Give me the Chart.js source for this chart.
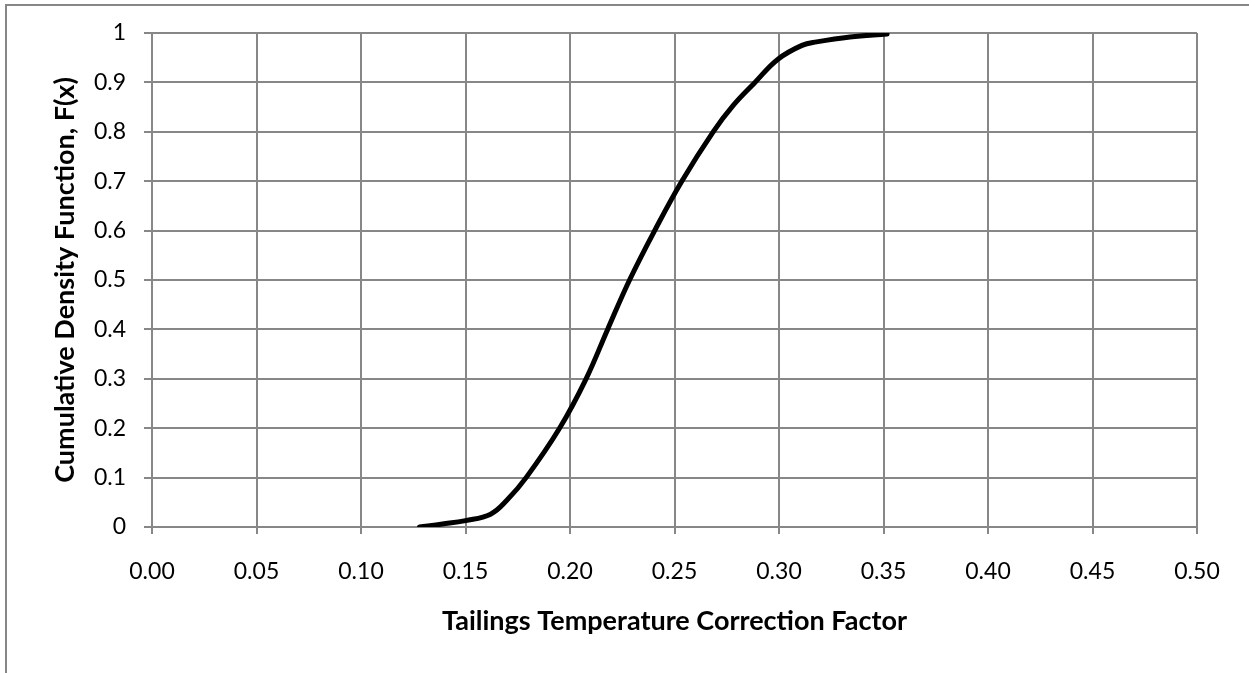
<!DOCTYPE html>
<html>
<head>
<meta charset="utf-8">
<script src="https://cdn.jsdelivr.net/npm/chart.js@4"></script>
<style>
  html, body { margin: 0; padding: 0; background: #fff; }
  #wrap { position: relative; width: 1249px; height: 673px; overflow: hidden; }
  #frame { position: absolute; left: 5px; top: 4px; width: 1400px; height: 900px; border: 2px solid #878787; }
  canvas { position: absolute; left: 0; top: 0; }
</style>
</head>
<body>
<div id="wrap">
  <div id="frame"></div>
  <canvas id="cdfChart" width="1249" height="673"></canvas>
</div>
<script>
// valeurs
const factorValues = [0.128, 0.139, 0.15, 0.162, 0.17, 0.179, 0.195, 0.2077, 0.218, 0.2285, 0.2405, 0.2535, 0.2685, 0.278, 0.2885, 0.2995, 0.311, 0.318, 0.334, 0.3517];
const cdfValues = [0, 0.006, 0.013, 0.026, 0.055, 0.1, 0.2, 0.3, 0.4, 0.5, 0.6, 0.7, 0.8, 0.853, 0.9, 0.947, 0.975, 0.982, 0.992, 0.998];
const xTicks = [0, 0.05, 0.1, 0.15, 0.2, 0.25, 0.3, 0.35, 0.4, 0.45, 0.5];
const yTicks = [0, 0.1, 0.2, 0.3, 0.4, 0.5, 0.6, 0.7, 0.8, 0.9, 1];

const points = factorValues.map((x, i) => ({ x: x, y: cdfValues[i] }));
const gridGray = "#878787";
const fontFamily = "Lato, 'Open Sans', sans-serif";

const ctx = document.getElementById("cdfChart").getContext("2d");
const cdfChart = new Chart(ctx, {
  type: "scatter",
  data: {
    datasets: [
      {
        data: points,
        showLine: true,
        borderColor: "#000",
        borderWidth: 5,
        pointRadius: 0,
        tension: 0.4,
        borderCapStyle: "round",
        borderJoinStyle: "round",
      },
    ],
  },
  options: {
    responsive: false,
    animation: false,
    layout: { padding: { left: 0, top: 33, right: 52, bottom: 0 } },
    plugins: {
      legend: { display: false },
      tooltip: { enabled: false },
    },
    scales: {
      x: {
        type: "linear",
        min: 0,
        max: 0.5,
        afterBuildTicks: (scale) => {
          scale.ticks = xTicks.map((v) => ({ value: v }));
        },
        afterFit: (scale) => {
          scale.height = 146;
        },
        grid: { color: gridGray, lineWidth: 2, tickLength: 7, drawTicks: true },
        border: { color: gridGray, width: 2 },
        ticks: {
          color: "#000",
          padding: 24,
          maxRotation: 0,
          font: { family: fontFamily, size: 23 },
          callback: (v) => Number(v).toFixed(2),
        },
        title: {
          display: true,
          text: "Tailings Temperature Correction Factor",
          color: "#000",
          font: { family: fontFamily, size: 27, weight: "bold" },
          padding: { top: 0, bottom: 36 },
        },
      },
      y: {
        type: "linear",
        min: 0,
        max: 1,
        afterBuildTicks: (scale) => {
          scale.ticks = yTicks.map((v) => ({ value: v }));
        },
        afterFit: (scale) => {
          scale.width = 152;
        },
        grid: { color: gridGray, lineWidth: 2, tickLength: 8 },
        border: { color: gridGray, width: 2 },
        ticks: {
          color: "#000",
          padding: 18,
          font: { family: fontFamily, size: 23 },
          callback: (v) => String(Math.round(v * 10) / 10),
        },
        title: {
          display: true,
          text: "Cumulative Density Function, F(x)",
          color: "#000",
          font: { family: fontFamily, size: 27, weight: "bold" },
          padding: { top: 49, bottom: 0 },
        },
      },
    },
  },
});
</script>
</body>
</html>
